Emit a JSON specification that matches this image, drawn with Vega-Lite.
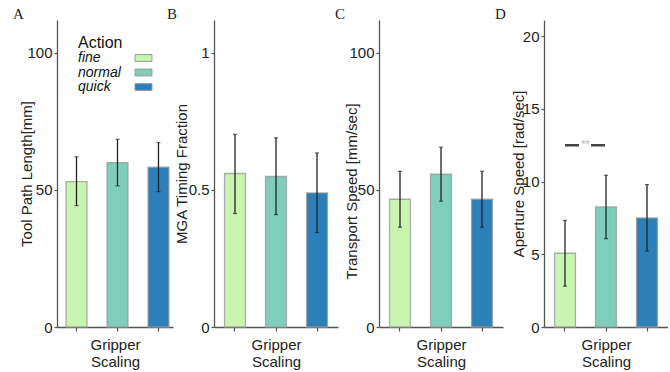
{
  "$schema": "https://vega.github.io/schema/vega-lite/v6.json",
  "background": "white",
  "padding": {"left": 13, "top": 7, "right": 0, "bottom": 0},
  "bounds": "flush",
  "spacing": 41,
  "datasets": {
    "A": [
      {"action": "fine", "mean": 53, "lo": 44.3, "hi": 62.1},
      {"action": "normal", "mean": 60, "lo": 51.5, "hi": 68.5},
      {"action": "quick", "mean": 58.3, "lo": 49.4, "hi": 67.3}
    ],
    "B": [
      {"action": "fine", "mean": 0.56, "lo": 0.414, "hi": 0.703},
      {"action": "normal", "mean": 0.549, "lo": 0.41, "hi": 0.69},
      {"action": "quick", "mean": 0.489, "lo": 0.345, "hi": 0.635}
    ],
    "C": [
      {"action": "fine", "mean": 46.6, "lo": 36.4, "hi": 56.8},
      {"action": "normal", "mean": 55.8, "lo": 45.9, "hi": 65.6},
      {"action": "quick", "mean": 46.6, "lo": 36.4, "hi": 56.8}
    ],
    "D": [
      {"action": "fine", "mean": 5.07, "lo": 2.8, "hi": 7.33},
      {"action": "normal", "mean": 8.25, "lo": 6.07, "hi": 10.43},
      {"action": "quick", "mean": 7.49, "lo": 5.22, "hi": 9.79}
    ],
    "sigD": [
      {"action": "fine", "action2": "normal", "y": 12.5, "label": "**"}
    ]
  },
  "resolve": {
    "scale": {"color": "independent", "x": "independent", "y": "independent"},
    "legend": {"color": "independent"}
  },
  "hconcat": [
    {
      "width": 116, "height": 307,
      "title": {"text": "A", "dx": -44, "dy": 15, "offset": 1, "baseline": "alphabetic"},
      "data": {"name": "A"},
      "layer": [
        {
          "mark": {"type": "bar", "stroke": "#9a9a9a", "strokeWidth": 1.3, "strokeOpacity": 0.8},
          "encoding": {
            "x": {"field": "action", "type": "nominal", "scale": {"domain": ["fine", "normal", "quick"], "paddingInner": 0.49, "paddingOuter": 0.16, "align": 0.69}, "title": ["Gripper", "Scaling"]},
            "y": {"field": "mean", "type": "quantitative", "scale": {"domain": [0, 112], "nice": false}, "axis": {"values": [0, 50, 100], "titleX": -23}, "title": "Tool Path Length[mm]"},
            "color": {"field": "action", "type": "nominal", "scale": {"domain": ["fine", "normal", "quick"], "range": ["#c8f5b0", "#7fcdbb", "#2c7fb8"]},
              "legend": {"orient": "none", "legendX": 21, "legendY": 15, "title": "Action", "titleFontSize": 16, "titleFont": "Liberation Sans", "titleFontWeight": "normal", "titleColor": "#111", "titlePadding": 0, "labelFontSize": 14, "labelFontStyle": "italic", "labelFont": "Liberation Sans", "labelColor": "#111", "labelOffset": -72.5, "symbolOffset": 58.5, "symbolType": "M-2,-0.8H2V0.8H-2Z", "symbolSize": 72, "symbolStrokeColor": "#999", "symbolStrokeWidth": 1, "rowPadding": 0.5, "padding": 0}}
          }
        },
        {
          "mark": {"type": "errorbar", "ticks": {"size": 4, "thickness": 1.2, "color": "#222"}, "rule": {"strokeWidth": 1.3, "color": "#222"}},
          "encoding": {
            "x": {"field": "action", "type": "nominal", "title": ["Gripper", "Scaling"]},
            "y": {"field": "lo", "type": "quantitative", "title": "Tool Path Length[mm]"},
            "y2": {"field": "hi"}
          }
        }
      ]
    },
    {
      "width": 124, "height": 307,
      "title": {"text": "B", "dx": -47, "dy": 15, "offset": 1, "baseline": "alphabetic"},
      "data": {"name": "B"},
      "layer": [
        {
          "mark": {"type": "bar", "stroke": "#9a9a9a", "strokeWidth": 1.3, "strokeOpacity": 0.8},
          "encoding": {
            "x": {"field": "action", "type": "nominal", "scale": {"domain": ["fine", "normal", "quick"], "paddingInner": 0.49, "paddingOuter": 0.257}, "title": ["Gripper", "Scaling"]},
            "y": {"field": "mean", "type": "quantitative", "scale": {"domain": [0, 1.12], "nice": false}, "axis": {"values": [0, 0.5, 1], "format": "~g", "titleX": -25}, "title": "MGA Timing Fraction"},
            "color": {"field": "action", "type": "nominal", "scale": {"domain": ["fine", "normal", "quick"], "range": ["#c8f5b0", "#7fcdbb", "#2c7fb8"]}, "legend": null}
          }
        },
        {
          "mark": {"type": "errorbar", "ticks": {"size": 4, "thickness": 1.2, "color": "#222"}, "rule": {"strokeWidth": 1.3, "color": "#222"}},
          "encoding": {
            "x": {"field": "action", "type": "nominal", "title": ["Gripper", "Scaling"]},
            "y": {"field": "lo", "type": "quantitative", "title": "MGA Timing Fraction"},
            "y2": {"field": "hi"}
          }
        }
      ]
    },
    {
      "width": 124, "height": 307,
      "title": {"text": "C", "dx": -44, "dy": 15, "offset": 1, "baseline": "alphabetic"},
      "data": {"name": "C"},
      "layer": [
        {
          "mark": {"type": "bar", "stroke": "#9a9a9a", "strokeWidth": 1.3, "strokeOpacity": 0.8},
          "encoding": {
            "x": {"field": "action", "type": "nominal", "scale": {"domain": ["fine", "normal", "quick"], "paddingInner": 0.49, "paddingOuter": 0.257}, "title": ["Gripper", "Scaling"]},
            "y": {"field": "mean", "type": "quantitative", "scale": {"domain": [0, 112], "nice": false}, "axis": {"values": [0, 50, 100], "titleX": -20, "titleY": 171}, "title": "Transport Speed [mm/sec]"},
            "color": {"field": "action", "type": "nominal", "scale": {"domain": ["fine", "normal", "quick"], "range": ["#c8f5b0", "#7fcdbb", "#2c7fb8"]}, "legend": null}
          }
        },
        {
          "mark": {"type": "errorbar", "ticks": {"size": 4, "thickness": 1.2, "color": "#222"}, "rule": {"strokeWidth": 1.3, "color": "#222"}},
          "encoding": {
            "x": {"field": "action", "type": "nominal", "title": ["Gripper", "Scaling"]},
            "y": {"field": "lo", "type": "quantitative", "title": "Transport Speed [mm/sec]"},
            "y2": {"field": "hi"}
          }
        }
      ]
    },
    {
      "width": 124, "height": 307,
      "title": {"text": "D", "dx": -49, "dy": 15, "offset": 1, "baseline": "alphabetic"},
      "layer": [
        {
          "data": {"name": "D"},
          "mark": {"type": "bar", "stroke": "#9a9a9a", "strokeWidth": 1.3, "strokeOpacity": 0.8},
          "encoding": {
            "x": {"field": "action", "type": "nominal", "scale": {"domain": ["fine", "normal", "quick"], "paddingInner": 0.49, "paddingOuter": 0.257}, "title": ["Gripper", "Scaling"]},
            "y": {"field": "mean", "type": "quantitative", "scale": {"domain": [0, 21.1], "nice": false}, "axis": {"values": [0, 5, 10, 15, 20], "titleX": -18}, "title": "Aperture Speed [rad/sec]"},
            "color": {"field": "action", "type": "nominal", "scale": {"domain": ["fine", "normal", "quick"], "range": ["#c8f5b0", "#7fcdbb", "#2c7fb8"]}, "legend": null}
          }
        },
        {
          "data": {"name": "D"},
          "mark": {"type": "errorbar", "ticks": {"size": 4, "thickness": 1.2, "color": "#222"}, "rule": {"strokeWidth": 1.3, "color": "#222"}},
          "encoding": {
            "x": {"field": "action", "type": "nominal", "title": ["Gripper", "Scaling"]},
            "y": {"field": "lo", "type": "quantitative", "title": "Aperture Speed [rad/sec]"},
            "y2": {"field": "hi"}
          }
        },
        {
          "data": {"name": "sigD"},
          "mark": {"type": "rule", "color": "#444", "strokeWidth": 2.5, "strokeDash": [14, 12]},
          "encoding": {
            "x": {"field": "action", "type": "nominal", "title": ["Gripper", "Scaling"]},
            "x2": {"field": "action2"},
            "y": {"field": "y", "type": "quantitative", "title": "Aperture Speed [rad/sec]"}
          }
        },
        {
          "data": {"name": "sigD"},
          "mark": {"type": "text", "color": "#aaa", "fontSize": 10, "baseline": "middle", "align": "center"},
          "encoding": {
            "x": {"field": "action", "type": "nominal", "bandPosition": 1.476, "title": ["Gripper", "Scaling"]},
            "y": {"field": "y", "type": "quantitative", "title": "Aperture Speed [rad/sec]"},
            "text": {"field": "label"}
          }
        }
      ]
    }
  ],
  "config": {
    "view": {"stroke": null},
    "font": "Liberation Sans",
    "axis": {"domainColor": "#555", "domainWidth": 1.3, "tickColor": "#555", "tickWidth": 1.2, "labelFont": "Liberation Sans", "labelFontSize": 15, "labelColor": "#222", "titleFont": "Liberation Sans", "titleFontSize": 15, "titleFontWeight": "normal", "titleColor": "#222", "grid": false},
    "axisX": {"labels": false, "tickSize": 4, "titlePadding": 6, "titleLineHeight": 17, "labelAngle": 0},
    "axisY": {"tickSize": 3, "labelPadding": 2, "titleBaseline": "bottom"},
    "title": {"font": "Liberation Serif", "fontSize": 15, "fontWeight": "normal", "anchor": "start", "frame": "group", "color": "#222"}
  }
}
